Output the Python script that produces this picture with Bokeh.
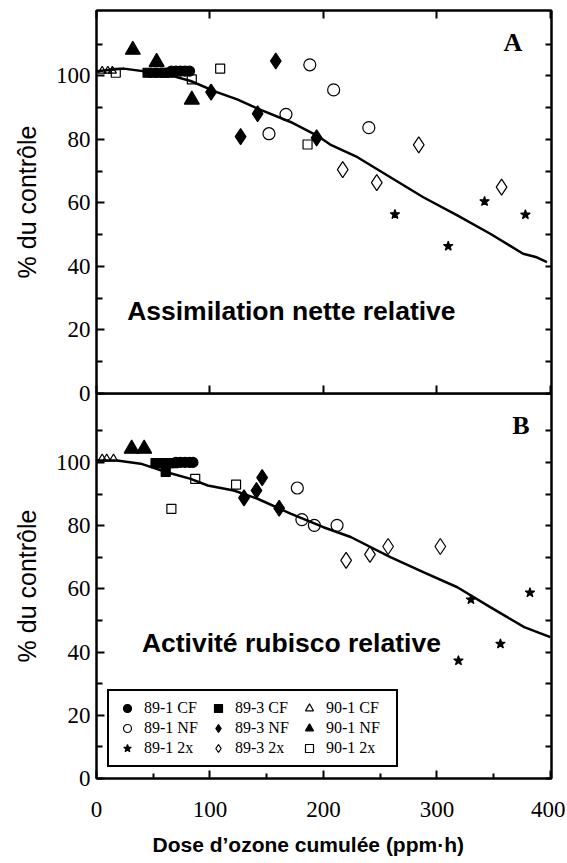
from bokeh.plotting import figure
from bokeh.layouts import column
from bokeh.models import Range1d, FixedTicker, LinearAxis, Label, Legend, LegendItem, Title
from bokeh.embed import file_html
from bokeh.resources import INLINE

# ---------------- data ----------------
x_ticks = [0, 100, 200, 300, 400]
x_minor = [50, 150, 250, 350]
y_ticks = [0, 20, 40, 60, 80, 100]
y_minor = [10, 30, 50, 70, 90, 110]

curve_a_x = [0, 24, 62, 83, 106, 124, 142, 171, 194, 206, 230, 259, 288, 318, 347, 376, 388, 397]
curve_a_y = [101.5, 102.3, 100.5, 98.4, 94.9, 92.6, 89.7, 85.5, 81.3, 78.4, 74.4, 68.1, 61.8, 56.1, 50.3, 44.0, 42.9, 41.4]
curve_b_x = [0, 18, 39, 62, 83, 98, 121, 142, 171, 200, 224, 259, 288, 318, 347, 377, 385, 400]
curve_b_y = [100.6, 100.6, 99.6, 96.9, 94.8, 92.7, 91.1, 88.5, 83.8, 79.5, 76.4, 70.0, 65.3, 60.5, 54.2, 47.9, 46.8, 44.7]

# panel A (assimilation nette)
a_891cf_x = [66, 70, 74, 78, 82]
a_891cf_y = [101.5, 101.5, 101.5, 101.5, 101.5]
a_891nf_x = [152, 167, 188, 209, 240]
a_891nf_y = [81.8, 87.9, 103.5, 95.6, 83.7]
a_8912x_x = [263, 310, 342, 378]
a_8912x_y = [56.4, 46.4, 60.5, 56.3]
a_893cf_x = [45, 50, 55, 60, 64]
a_893cf_y = [101, 101, 101, 101, 101]
a_893nf_x = [101, 127, 142, 158, 194]
a_893nf_y = [94.9, 80.9, 88.1, 104.7, 80.5]
a_8932x_x = [217, 247, 284, 357]
a_8932x_y = [70.5, 66.4, 78.3, 65.0]
a_901cf_x = [5, 10, 14]
a_901cf_y = [101.6, 101.6, 101.6]
a_901nf_x = [32, 53, 84]
a_901nf_y = [108.2, 104.4, 92.5]
a_9012x_x = [17, 84, 109, 186]
a_9012x_y = [101, 98.9, 102.3, 78.4]

# panel B (activité rubisco)
b_891cf_x = [70, 74, 78, 82, 85]
b_891cf_y = [100, 100, 100, 100, 100]
b_891nf_x = [177, 181, 192, 212]
b_891nf_y = [91.9, 81.9, 80.1, 80.1]
b_8912x_x = [319, 330, 356, 382]
b_8912x_y = [37.3, 56.6, 42.6, 58.8]
b_893cf_x = [52, 56, 60, 64, 68, 61]
b_893cf_y = [99.8, 99.8, 99.8, 99.8, 99.8, 97.0]
b_893nf_x = [130, 141, 146, 161]
b_893nf_y = [88.8, 91.1, 95.2, 85.5]
b_8932x_x = [220, 241, 257, 303]
b_8932x_y = [69.0, 70.9, 73.4, 73.4]
b_901cf_x = [5, 9, 15]
b_901cf_y = [101.2, 101.2, 101.2]
b_901nf_x = [31, 42]
b_901nf_y = [104.3, 104.3]
b_9012x_x = [66, 87, 123]
b_9012x_y = [85.3, 94.8, 93.0]

series_labels = ["89-1 CF", "89-1 NF", "89-1 2x",
                 "89-3 CF", "89-3 NF", "89-3 2x",
                 "90-1 CF", "90-1 NF", "90-1 2x"]

# marker styles: (marker, size, filled)
styles = {
    "89-1 CF": ("circle", 10, True),
    "89-1 NF": ("circle", 12, False),
    "89-1 2x": ("star", 10, True),
    "89-3 CF": ("square", 9, True),
    "89-3 NF": ("diamond", 16, True),
    "89-3 2x": ("diamond", 16, False),
    "90-1 CF": ("triangle", 8, False),
    "90-1 NF": ("triangle", 15, True),
    "90-1 2x": ("square", 9, False),
}

panel_a = {
    "89-1 CF": (a_891cf_x, a_891cf_y), "89-1 NF": (a_891nf_x, a_891nf_y), "89-1 2x": (a_8912x_x, a_8912x_y),
    "89-3 CF": (a_893cf_x, a_893cf_y), "89-3 NF": (a_893nf_x, a_893nf_y), "89-3 2x": (a_8932x_x, a_8932x_y),
    "90-1 CF": (a_901cf_x, a_901cf_y), "90-1 NF": (a_901nf_x, a_901nf_y), "90-1 2x": (a_9012x_x, a_9012x_y),
}
panel_b = {
    "89-1 CF": (b_891cf_x, b_891cf_y), "89-1 NF": (b_891nf_x, b_891nf_y), "89-1 2x": (b_8912x_x, b_8912x_y),
    "89-3 CF": (b_893cf_x, b_893cf_y), "89-3 NF": (b_893nf_x, b_893nf_y), "89-3 2x": (b_8932x_x, b_8932x_y),
    "90-1 CF": (b_901cf_x, b_901cf_y), "90-1 NF": (b_901nf_x, b_901nf_y), "90-1 2x": (b_9012x_x, b_9012x_y),
}

SERIF = "Liberation Serif"
SANS = "Liberation Sans"


def hide_labels(ax, ticks):
    ax.major_label_overrides = {t: "" for t in ticks}
    ax.major_label_text_font_size = "0px"
    ax.major_label_standoff = 0


def make_panel(frame_h, ytop, top_border, bottom_border, top_axis):
    p = figure(frame_width=455, frame_height=frame_h,
               x_range=Range1d(0, 401), y_range=Range1d(0, ytop),
               output_backend="svg", toolbar_location=None,
               x_axis_location=None, y_axis_location=None,
               min_border_left=96, min_border_right=14,
               min_border_top=top_border, min_border_bottom=bottom_border)
    p.xgrid.visible = False
    p.ygrid.visible = False
    p.outline_line_color = "black"
    p.outline_line_width = 2
    p.outline_line_alpha = 1

    left = LinearAxis(ticker=FixedTicker(ticks=y_ticks, minor_ticks=y_minor),
                      major_tick_in=8, major_tick_out=0, minor_tick_in=6, minor_tick_out=0,
                      axis_line_width=2, major_tick_line_width=2, minor_tick_line_width=2,
                      major_label_text_font=SERIF, major_label_text_font_size="23px",
                      major_label_text_color="black", major_label_standoff=6,
                      axis_label="% du contrôle", axis_label_text_font=SANS,
                      axis_label_text_font_size="25px", axis_label_text_font_style="normal",
                      axis_label_text_color="black", axis_label_standoff=12)
    p.add_layout(left, "left")

    rticks = sorted(y_ticks + y_minor)
    right = LinearAxis(ticker=FixedTicker(ticks=rticks, minor_ticks=[]),
                       major_tick_in=6, major_tick_out=0, axis_line_width=2,
                       major_tick_line_width=2)
    hide_labels(right, rticks)
    p.add_layout(right, "right")

    if top_axis:
        top = LinearAxis(ticker=FixedTicker(ticks=x_ticks, minor_ticks=[]),
                         major_tick_in=8, major_tick_out=0, axis_line_width=2,
                         major_tick_line_width=2)
        hide_labels(top, x_ticks)
        p.add_layout(top, "above")
    return p


# ---------------- panel A ----------------
pA = make_panel(383, 120.6, 10, 12, True)
botA = LinearAxis(ticker=FixedTicker(ticks=x_ticks, minor_ticks=[]),
                  major_tick_in=8, major_tick_out=0, axis_line_width=2, major_tick_line_width=2)
hide_labels(botA, x_ticks)
pA.add_layout(botA, "below")

# ---------------- panel B ----------------
pB = make_panel(385, 121.8, 0, 70, False)
pB.border_fill_color = None
pB.background_fill_color = None
pB.styles = {"margin-top": "-12px"}
botB = LinearAxis(ticker=FixedTicker(ticks=x_ticks, minor_ticks=x_minor),
                  major_tick_in=8, major_tick_out=0, minor_tick_in=5, minor_tick_out=0,
                  axis_line_width=2, major_tick_line_width=2, minor_tick_line_width=2,
                  major_label_text_font=SERIF, major_label_text_font_size="23px",
                  major_label_text_color="black", major_label_standoff=23)
pB.add_layout(botB, "below")
pB.add_layout(Title(text="Dose d\u2019ozone cumulée (ppm\u00b7h)", text_font=SANS,
                    text_font_style="bold", text_font_size="21px", text_color="black",
                    align="left", offset=56, standoff=23), "below")


def draw(p, cx, cy, data):
    p.line(cx, cy, line_color="black", line_width=2.5)
    rends = {}
    for lab in series_labels:
        xs, ys = data[lab]
        mk, sz, filled = styles[lab]
        rends[lab] = p.scatter(xs, ys, marker=mk, size=sz,
                               fill_color="black" if filled else None,
                               line_color="black", line_width=1.2)
    return rends


draw(pA, curve_a_x, curve_a_y, panel_a)
rendsB = draw(pB, curve_b_x, curve_b_y, panel_b)

pA.add_layout(Label(x=367, y=110.5, text="A", text_font=SERIF, text_font_style="bold",
                    text_font_size="26px", text_color="black",
                    text_align="center", text_baseline="middle"))
pB.add_layout(Label(x=374, y=111.7, text="B", text_font=SERIF, text_font_style="bold",
                    text_font_size="26px", text_color="black",
                    text_align="center", text_baseline="middle"))
pA.add_layout(Label(x=27, y=26, text="Assimilation nette relative", text_font=SANS,
                    text_font_style="bold", text_font_size="26.5px", text_color="black",
                    text_align="left", text_baseline="middle"))
pB.add_layout(Label(x=40, y=43, text="Activité rubisco relative", text_font=SANS,
                    text_font_style="bold", text_font_size="26.5px", text_color="black",
                    text_align="left", text_baseline="middle"))

legend = Legend(items=[LegendItem(label=lab, renderers=[rendsB[lab]]) for lab in series_labels],
                location=(11, 11), orientation="vertical", nrows=3,
                glyph_width=22, glyph_height=20, label_standoff=6, label_width=63,
                label_height=20, spacing=0, padding=7, margin=0,
                label_text_font=SERIF, label_text_font_size="16px", label_text_color="black",
                border_line_color="black", border_line_width=2, border_line_alpha=1,
                background_fill_color="white", background_fill_alpha=1)
pB.add_layout(legend)

layout = column(pA, pB, spacing=0)
open("out.html", "w").write(file_html(layout, INLINE))
